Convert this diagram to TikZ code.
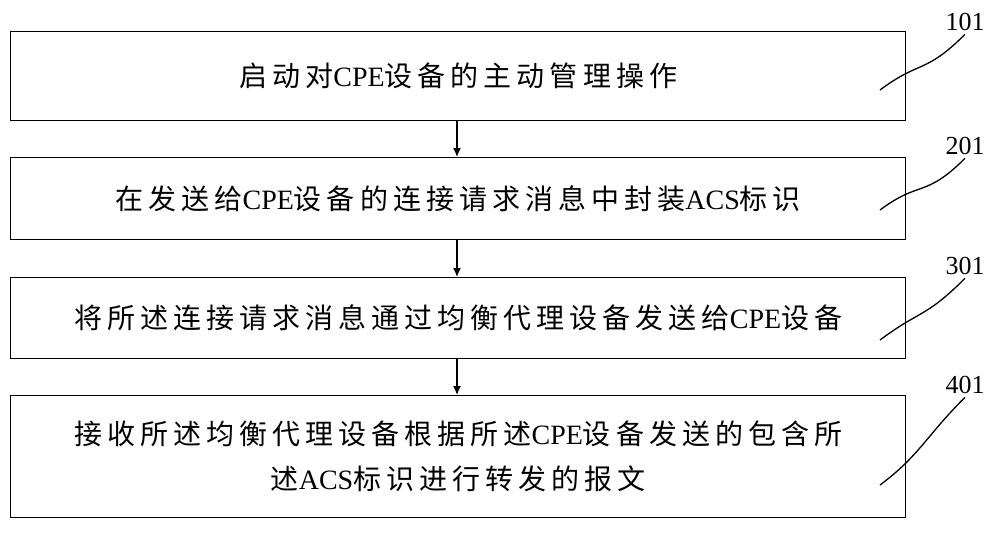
\documentclass[tikz,border=0pt]{standalone}
\usepackage{fontspec}
\usetikzlibrary{arrows.meta,calc}
\setmainfont{Liberation Serif}
\newfontfamily\cjk[LetterSpace=18]{Noto Sans CJK SC}
\begin{document}
\begin{tikzpicture}[x=1pt,y=-1pt,
 box/.style={draw,line width=1.4pt,minimum width=895pt,anchor=north west,align=center,inner sep=0pt,font=\fontsize{28}{45}\selectfont},
 lab/.style={font=\fontsize{26}{30}\selectfont},
 arr/.style={-{Latex[length=9pt,width=8pt]},line width=1.4pt},
 lead/.style={line width=1.3pt}]
\useasboundingbox (0,0) rectangle (1000,547);
\node[box,minimum height=89pt] (b1) at (10,31) {{\cjk 启动对}CPE{\cjk 设备的主动管理操作}};
\node[box,minimum height=82pt] (b2) at (10,157) {{\cjk 在发送给}CPE{\cjk 设备的连接请求消息中封装}ACS{\cjk 标识}};
\node[box,minimum height=81pt] (b3) at (10,277) {{\cjk 将所述连接请求消息通过均衡代理设备发送给}CPE{\cjk 设备}};
\node[box,minimum height=122pt] (b4) at (10,395) {{\cjk 接收所述均衡代理设备根据所述}CPE{\cjk 设备发送的包含所}\\{\cjk 述}ACS{\cjk 标识进行转发的报文}};
\draw[arr] (b1.south -| 457,0) -- (b2.north -| 457,0);
\draw[arr] (b2.south -| 457,0) -- (b3.north -| 457,0);
\draw[arr] (b3.south -| 457,0) -- (b4.north -| 457,0);
\node[lab] (l1) at (965,22) {101};
\node[lab] (l2) at (965,146) {201};
\node[lab] (l3) at (965,266) {301};
\node[lab] (l4) at (965,385) {401};
\coordinate (c1) at (880,90); \coordinate (c2) at (880,210);
\coordinate (c3) at (880,340); \coordinate (c4) at (880,485);
\foreach \i in {1,2,3,4}{
 \draw[lead] (c\i) .. controls ($(c\i)+(40,-30)$) and ($(l\i.south)+(-40,40)$) .. (l\i.south);}
\end{tikzpicture}
\end{document}
